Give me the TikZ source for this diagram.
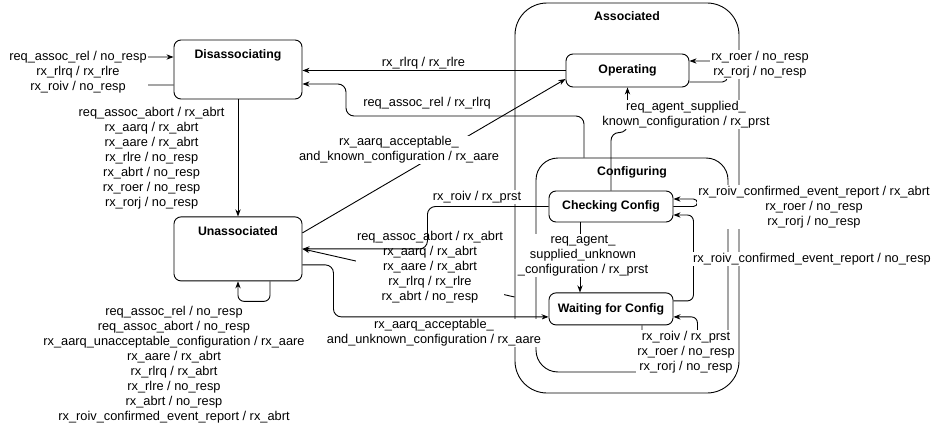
\documentclass[tikz,border=0pt]{standalone}
\usepackage{fontspec}
\setmainfont{Liberation Sans}
\usetikzlibrary{positioning,arrows.meta}

\begin{document}
\begin{tikzpicture}[auto, node distance=1cm, x=1pt, y=-1pt, line width=0.9pt,
    cont/.style={draw},
    box/.style={draw, fill=white, rounded corners=7pt,
        font=\fontsize{12.3}{14}\selectfont\bfseries},
    boxtitle/.style={anchor=mid, inner sep=0pt,
        font=\fontsize{12.3}{14}\selectfont\bfseries},
    lbl/.style={fill=white, inner sep=1pt, align=center,
        font=\fontsize{12.8}{15}\selectfont}]
    \useasboundingbox (0,0) rectangle (935,428);
    % Associated and Configuring
    \node [cont,
        rounded corners=32pt,
        minimum width=224pt,
        minimum height=390pt
    ]  (Assoc) at (627,198) {};
    \node [cont,
        rounded corners=22pt,
        minimum width=192pt,
        minimum height=214pt
    ]  (Config) at (632,265) {};
    \node [boxtitle] (AssocT) at ([yshift=-15pt]Assoc.north) {Associated};
    \node [boxtitle] (ConfigT) at ([yshift=-15pt]Config.north) {Configuring};
    % States
    \node [box,
        minimum width=128pt,
        minimum height=59pt
    ]  (Disassoc) at (238,69.5) {};
    \node [box,
        minimum width=128pt,
        minimum height=64pt,
        below=117pt of Disassoc
    ]  (Unassoc) {};
    \node [boxtitle] (DisassocT) at ([yshift=-16pt]Disassoc.north) {Disassociating};
    \node [boxtitle] (UnassocT) at ([yshift=-16pt]Unassoc.north) {Unassociated};
    \node [box,
        minimum width=123pt,
        minimum height=33pt
    ]  (Operating) at (627.5,70.5) {Operating};
    \node [box,
        minimum width=124pt,
        minimum height=31pt
    ]  (Checking) at (611,206.5) {Checking Config};
    \node [box,
        minimum width=124pt,
        minimum height=32pt,
        below=70pt of Checking
    ]  (Waiting) {Waiting for Config};
    % Arrows with text label
    \draw[-Stealth, rounded corners=6pt] ([yshift=-15.5pt]Disassoc.west) -- ++(-40pt,0)
        |- ([yshift=12.5pt]Disassoc.west);
    \node [lbl] (lDisLoop) at (78,72) {req\_assoc\_rel / no\_resp\\rx\_rlrq / rx\_rlre\\rx\_roiv / no\_resp};
    \draw[-Stealth] (Disassoc.south) -- (Unassoc.north)
    node[lbl, midway, left=12pt]{req\_assoc\_abort / rx\_abrt\\rx\_aarq / rx\_abrt\\rx\_aare / rx\_abrt\\rx\_rlre / no\_resp\\rx\_abrt / no\_resp\\rx\_roer / no\_resp\\rx\_rorj / no\_resp};
    \draw[-Stealth] (Operating.west) -- (Operating.west -| Disassoc.east)
    node[lbl, pos=0.54, above]{rx\_rlrq / rx\_rlre};
    \draw[-Stealth, rounded corners=8pt] ([xshift=-48pt]Config.north) |- (346,116)
        |- ([yshift=-14.5pt]Disassoc.east);
    \node [lbl] (lRel) at (427,103) {req\_assoc\_rel / rx\_rlrq};
    \draw[-Stealth] ([yshift=16pt]Unassoc.east) -- ([yshift=-8.5pt]Operating.west);
    \node [lbl] (lKnown) at (399,150) {rx\_aarq\_acceptable\_\\and\_known\_configuration / rx\_aare};
    \draw[-Stealth] ([yshift=-99pt]Assoc.west) -- (Unassoc.east);
    \node [lbl] (lAbort) at (430,267) {req\_assoc\_abort / rx\_abrt\\rx\_aarq / rx\_abrt\\rx\_aare / rx\_abrt\\rx\_rlrq / rx\_rlre\\rx\_abrt / no\_resp};
    \draw[-Stealth, rounded corners=8pt] (Checking.west) -| ([xshift=125pt]Unassoc.east)
        -- (Unassoc.east);
    \node [lbl] (lRoiv) at (477,197) {rx\_roiv / rx\_prst};
    \draw[-Stealth, rounded corners=8pt] ([yshift=-16pt]Unassoc.east) -- ++(31pt,0)
        |- ([yshift=-8pt]Waiting.west);
    \node [lbl] (lUnknown) at (434,333) {rx\_aarq\_acceptable\_\\and\_unknown\_configuration / rx\_aare};
    \draw[-Stealth, rounded corners=6pt] ([xshift=32pt]Unassoc.south) -- ++(0,-20pt)
        -| (Unassoc.south);
    \node [lbl] (lUnLoop) at (174,365) {req\_assoc\_rel / no\_resp\\req\_assoc\_abort / no\_resp\\rx\_aarq\_unacceptable\_configuration / rx\_aare\\rx\_aare / rx\_abrt\\rx\_rlrq / rx\_abrt\\rx\_rlre / no\_resp\\rx\_abrt / no\_resp\\rx\_roiv\_confirmed\_event\_report / rx\_abrt};
    \draw[-Stealth, rounded corners=5pt] ([yshift=-11.5pt]Operating.east) -- ++(38pt,0)
        |- ([yshift=9.5pt]Operating.east);
    \node [lbl] (lOpLoop) at (760,64.5) {rx\_roer / no\_resp\\rx\_rorj / no\_resp};
    \draw[-Stealth, rounded corners=8pt] (Checking.north) -- ++(0,58pt) -| (Operating.south);
    \node [lbl] (lAgentKnown) at (686,114.5) {req\_agent\_supplied\_\\known\_configuration / rx\_prst};
    \draw[-Stealth] ([xshift=-31pt]Checking.south) -- ([xshift=-31pt]Waiting.north)
    node[lbl, midway, anchor=center, xshift=3pt, yshift=2pt]{req\_agent\_\\supplied\_unknown\\\_configuration / rx\_prst};
    \draw[-Stealth, rounded corners=4pt] (Checking.east) -- ++(24pt,0)
        |- ([yshift=7.5pt]Checking.east);
    \node [lbl] (lChkLoop) at (814,207) {rx\_roiv\_confirmed\_event\_report / rx\_abrt\\rx\_roer / no\_resp\\rx\_rorj / no\_resp};
    \draw[-Stealth, rounded corners=6pt] ([yshift=8pt]Waiting.east) -- ++(20pt,0)
        |- ([yshift=-8.5pt]Checking.east);
    \node [lbl] (lWaitChk) at (812,259) {rx\_roiv\_confirmed\_event\_report / no\_resp};
    \draw[-Stealth, rounded corners=6pt] ([xshift=31pt]Waiting.south) -- ++(0,-28pt)
        -| ([xshift=24pt,yshift=-8pt]Waiting.east) -- ([yshift=-8pt]Waiting.east);
    \node [lbl] (lWaitLoop) at (686,352) {rx\_roiv / rx\_prst\\rx\_roer / no\_resp\\rx\_rorj / no\_resp};

\end{tikzpicture}
\end{document}
